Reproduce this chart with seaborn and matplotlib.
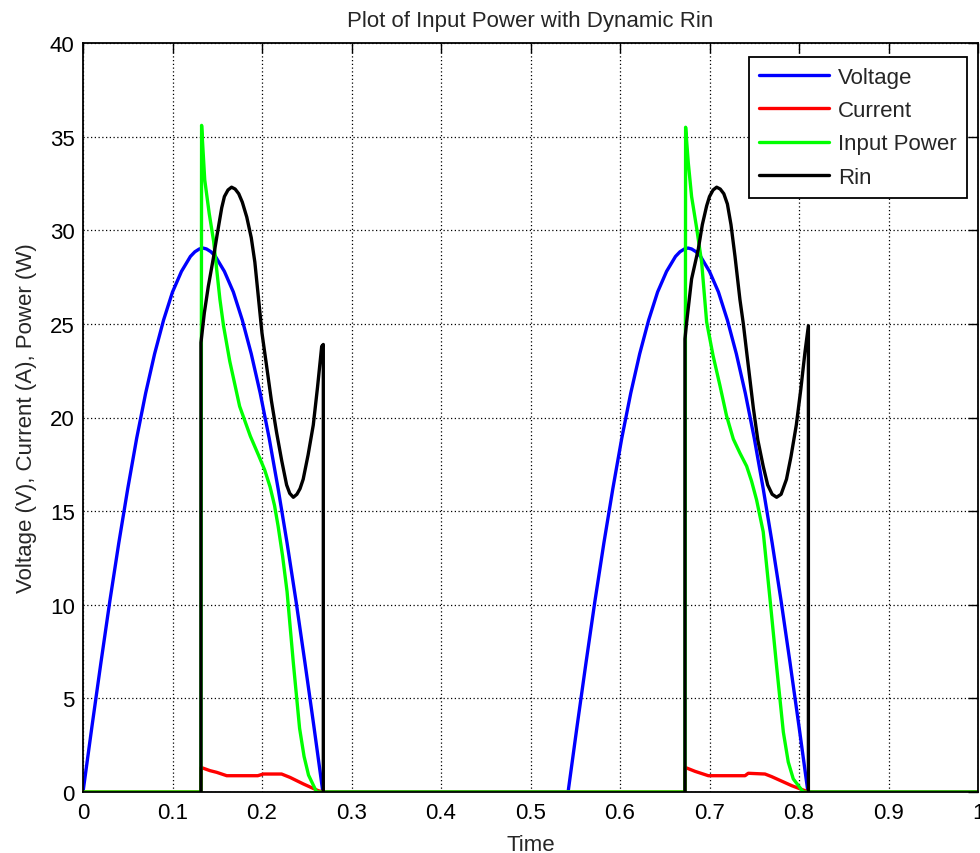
import matplotlib
matplotlib.use("Agg")
import matplotlib.pyplot as plt
import seaborn as sns
import pandas as pd

# ---------------- data ----------------
volt_t = [0.000, 0.010, 0.020, 0.030, 0.040, 0.050, 0.060, 0.070, 0.080, 0.090,
          0.100, 0.110, 0.120, 0.125, 0.130, 0.134, 0.138, 0.143, 0.148, 0.158,
          0.168, 0.178, 0.188, 0.198, 0.208, 0.218, 0.228, 0.238, 0.248, 0.258, 0.268,
          0.542, 0.552, 0.562, 0.572, 0.582, 0.592, 0.602, 0.612, 0.622, 0.632,
          0.642, 0.652, 0.662, 0.667, 0.672, 0.676, 0.680, 0.685, 0.690, 0.700,
          0.710, 0.720, 0.730, 0.740, 0.750, 0.760, 0.770, 0.780, 0.790, 0.800, 0.810,
          1.000]
volt_v = [0.0, 3.5, 6.9, 10.2, 13.3, 16.2, 18.9, 21.3, 23.4, 25.2,
          26.7, 27.8, 28.6, 28.85, 29.0, 29.05, 29.0, 28.85, 28.6, 27.8,
          26.7, 25.2, 23.4, 21.3, 18.9, 16.2, 13.3, 10.2, 6.9, 3.5, 0.0,
          0.0, 3.5, 6.9, 10.2, 13.3, 16.2, 18.9, 21.3, 23.4, 25.2,
          26.7, 27.8, 28.6, 28.85, 29.0, 29.05, 29.0, 28.85, 28.6, 27.8,
          26.7, 25.2, 23.4, 21.3, 18.9, 16.2, 13.3, 10.2, 6.9, 3.5, 0.0,
          0.0]

cur_t = [0.000, 0.1318, 0.1320, 0.1337, 0.1419, 0.1494, 0.1606, 0.1953, 0.2014,
         0.2219, 0.2313, 0.2462, 0.2629, 0.2680,
         0.6726, 0.6728, 0.6745, 0.6840, 0.6987, 0.7397, 0.7433, 0.7620, 0.7695,
         0.7918, 0.8067, 0.8090, 1.000]
cur_v = [0.0, 0.0, 1.30, 1.28, 1.14, 1.05, 0.87, 0.87, 0.96,
         0.96, 0.78, 0.43, 0.07, 0.0,
         0.0, 1.30, 1.28, 1.10, 0.87, 0.87, 1.00, 0.96, 0.82,
         0.34, 0.07, 0.0, 0.0]

pow_t = [0.000, 0.1318, 0.1325, 0.136, 0.141, 0.146, 0.153, 0.157, 0.164, 0.175, 0.187,
         0.196, 0.203, 0.209, 0.214, 0.218, 0.223, 0.228, 0.235, 0.242, 0.247, 0.252, 0.261,
         0.6726, 0.6733, 0.6763, 0.680, 0.6857, 0.6912, 0.6968, 0.7040, 0.7117,
         0.7190, 0.7266, 0.7340, 0.7415, 0.7470, 0.7526, 0.760, 0.7676, 0.775, 0.7825,
         0.7880, 0.7936, 0.8048, 1.000]
pow_v = [0.0, 0.0, 35.6, 32.7, 30.9, 29.4, 26.3, 24.9, 23.0, 20.6, 19.0,
         18.0, 17.2, 16.3, 15.3, 14.2, 12.6, 10.7, 6.9, 3.4, 1.9, 0.9, 0.0,
         0.0, 35.5, 33.6, 31.8, 30.1, 28.3, 25.1, 23.3, 21.7,
         20.1, 18.85, 18.1, 17.4, 16.6, 15.6, 13.9, 10.3, 6.7, 3.2,
         1.6, 0.7, 0.0, 0.0]

rin1_t = [0.1318, 0.1318, 0.1356, 0.140, 0.1456, 0.150, 0.155, 0.158, 0.162, 0.166,
          0.170, 0.174, 0.178, 0.183, 0.188, 0.192, 0.196, 0.200, 0.205, 0.2105,
          0.2163, 0.222, 0.2275, 0.231, 0.235, 0.239, 0.2425, 0.246, 0.2515, 0.2573,
          0.262, 0.2667, 0.2685, 0.2685]
rin1_v = [0.0, 24.0, 25.6, 27.0, 28.5, 29.8, 31.2, 31.8, 32.15, 32.3,
          32.2, 31.95, 31.5, 30.7, 29.6, 28.3, 26.4, 24.5, 22.8, 20.9,
          19.2, 17.7, 16.4, 15.95, 15.74, 15.9, 16.2, 16.7, 18.0, 19.6,
          21.6, 23.8, 23.9, 0.0]
rin2_t = [0.6726, 0.6726, 0.6745, 0.680, 0.6875, 0.692, 0.6968, 0.700, 0.704, 0.708,
          0.712, 0.716, 0.720, 0.724, 0.7285, 0.734, 0.7378, 0.742, 0.749, 0.754,
          0.760, 0.765, 0.770, 0.775, 0.780, 0.786, 0.791, 0.797, 0.802, 0.8067,
          0.8105, 0.8105]
rin2_v = [0.0, 24.2, 25.1, 27.4, 29.0, 30.3, 31.3, 31.8, 32.15, 32.3,
          32.2, 31.95, 31.4, 30.3, 28.6, 26.3, 25.0, 23.3, 20.5, 18.8,
          17.4, 16.4, 15.9, 15.74, 15.9, 16.7, 17.9, 19.6, 21.5, 23.5,
          24.9, 0.0]

x_ticks = [0, 0.1, 0.2, 0.3, 0.4, 0.5, 0.6, 0.7, 0.8, 0.9, 1]
x_tick_labels = ["0", "0.1", "0.2", "0.3", "0.4", "0.5", "0.6", "0.7", "0.8", "0.9", "1"]
y_ticks = [0, 5, 10, 15, 20, 25, 30, 35, 40]

# ---------------- style ----------------
sns.set_theme(style="white")
plt.rcParams["font.family"] = ["Liberation Sans", "DejaVu Sans"]

fig = plt.figure(figsize=(9.8, 8.54), dpi=100)
ax = fig.add_axes([83 / 980, 1 - 793 / 854, (978 - 83) / 980, (793 - 44) / 854])

lw = 2.4
df_v = pd.DataFrame({"t": volt_t, "v": volt_v})
df_c = pd.DataFrame({"t": cur_t, "v": cur_v})
df_p = pd.DataFrame({"t": pow_t, "v": pow_v})
df_r1 = pd.DataFrame({"t": rin1_t, "v": rin1_v})
df_r2 = pd.DataFrame({"t": rin2_t, "v": rin2_v})

common = dict(x="t", y="v", sort=False, estimator=None, lw=lw, ax=ax)
sns.lineplot(data=df_v, color="#0000ff", label="Voltage", **common)
sns.lineplot(data=df_c, color="#ff0000", label="Current", **common)
sns.lineplot(data=df_p, color="#00ff00", label="Input Power", **common)
sns.lineplot(data=df_r1, color="#000000", label="Rin", **common)
sns.lineplot(data=df_r2, color="#000000", label="_nolegend_", **common)

ax.set_xlim(0, 1)
ax.set_ylim(0, 40)
ax.set_xticks(x_ticks)
ax.set_xticklabels(x_tick_labels)
ax.set_yticks(y_ticks)
ax.grid(True, color="black", linestyle=(0, (1, 2)), linewidth=0.9)
ax.set_axisbelow(True)
for s in ax.spines.values():
    s.set_color("black")
    s.set_linewidth(1.3)
ax.tick_params(direction="in", top=True, right=True, length=7, width=1,
               labelsize=16, colors="black")
ax.tick_params(axis="x", pad=7)
ax.tick_params(axis="y", pad=6)

ax.set_title("Plot of Input Power with Dynamic Rin", fontsize=16, pad=12)
ax.set_xlabel("Time", fontsize=16, labelpad=8)
ax.set_ylabel("Voltage (V), Current (A), Power (W)", fontsize=16, labelpad=9)

leg = ax.legend(loc="upper right", bbox_to_anchor=(0.9877, 0.9813), fontsize=16,
                handlelength=3.15, labelspacing=0.55, borderaxespad=0.0,
                fancybox=False, framealpha=1, edgecolor="black",
                borderpad=0.45, handletextpad=0.4)
leg.get_frame().set_linewidth(1.3)
for h in leg.get_lines():
    h.set_linewidth(lw)

fig.savefig("out.png", dpi=100, facecolor="white")
